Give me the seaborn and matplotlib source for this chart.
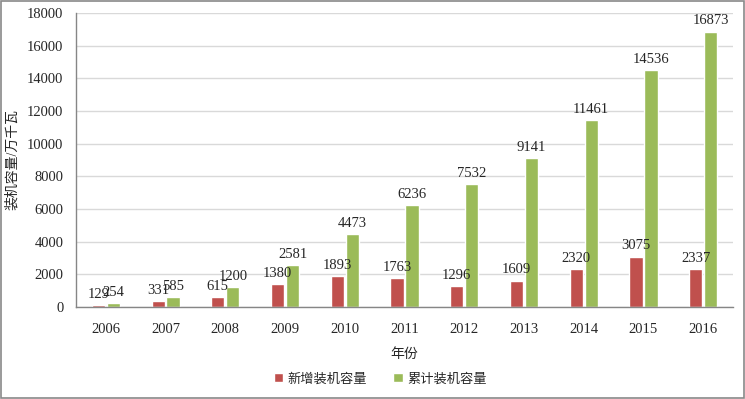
import matplotlib
matplotlib.use("Agg")
import matplotlib.pyplot as plt
import seaborn as sns
import pandas as pd
from matplotlib.patches import Rectangle

years = ["2006", "2007", "2008", "2009", "2010", "2011", "2012", "2013", "2014", "2015", "2016"]
new_capacity = [129, 331, 615, 1380, 1893, 1763, 1296, 1609, 2320, 3075, 2337]
cum_capacity = [254, 585, 1200, 2581, 4473, 6236, 7532, 9141, 11461, 14536, 16873]
series_names = ["新增装机容量", "累计装机容量"]
colors = ["#C0504D", "#9BBB59"]

df = pd.DataFrame({
    "年份": years * 2,
    "值": new_capacity + cum_capacity,
    "系列": [series_names[0]] * len(years) + [series_names[1]] * len(years),
})

sns.set_style("white")
plt.rcParams["font.family"] = ["Liberation Serif", "Noto Sans CJK SC", "DejaVu Sans"]

fig = plt.figure(figsize=(7.45, 3.99), dpi=100)
ax = fig.add_axes([0.102, 0.231, 0.882, 0.736])

sns.barplot(data=df, x="年份", y="值", hue="系列", palette=colors,
            width=0.5, gap=0.12, ax=ax, saturation=1, legend=True)

for cont in ax.containers:
    ax.bar_label(cont, fmt="%d", padding=3, fontsize=10.5)

ax.set_ylim(0, 18000)
ax.set_yticks(range(0, 18001, 2000))
ax.set_xlim(-0.5, len(years) - 0.5)
ax.yaxis.grid(True, color="#D9D9D9", linewidth=1)
ax.set_axisbelow(True)
for s in ["top", "right"]:
    ax.spines[s].set_visible(False)
for s in ["left", "bottom"]:
    ax.spines[s].set_color("#868686")
    ax.spines[s].set_linewidth(1)

ax.set_xticks(range(len(years)))
ax.set_xticklabels(years)
ax.set_xticks([i - 0.5 for i in range(len(years) + 1)], minor=True)
ax.tick_params(axis="x", which="major", length=0, pad=12, labelsize=10.5)
ax.tick_params(axis="x", which="minor", length=4, direction="in", color="#868686", width=1)
ax.tick_params(axis="y", length=3, direction="out", color="#868686", labelsize=10.5, pad=6)

ax.set_xlabel("年份", fontsize=10, labelpad=8)
ax.set_ylabel("装机容量/万千瓦", fontsize=10, labelpad=6)

ax.legend(loc="center", bbox_to_anchor=(0.463, -0.246), ncol=2, frameon=False,
          fontsize=9.5, handlelength=0.7, handleheight=0.7, handletextpad=0.35,
          columnspacing=2.0, title=None)

fig.patches.append(Rectangle((0.001, 0.002), 0.997, 0.995, transform=fig.transFigure,
                             fill=False, edgecolor="#898989", linewidth=1.2))

fig.savefig("out.png", dpi=100)
